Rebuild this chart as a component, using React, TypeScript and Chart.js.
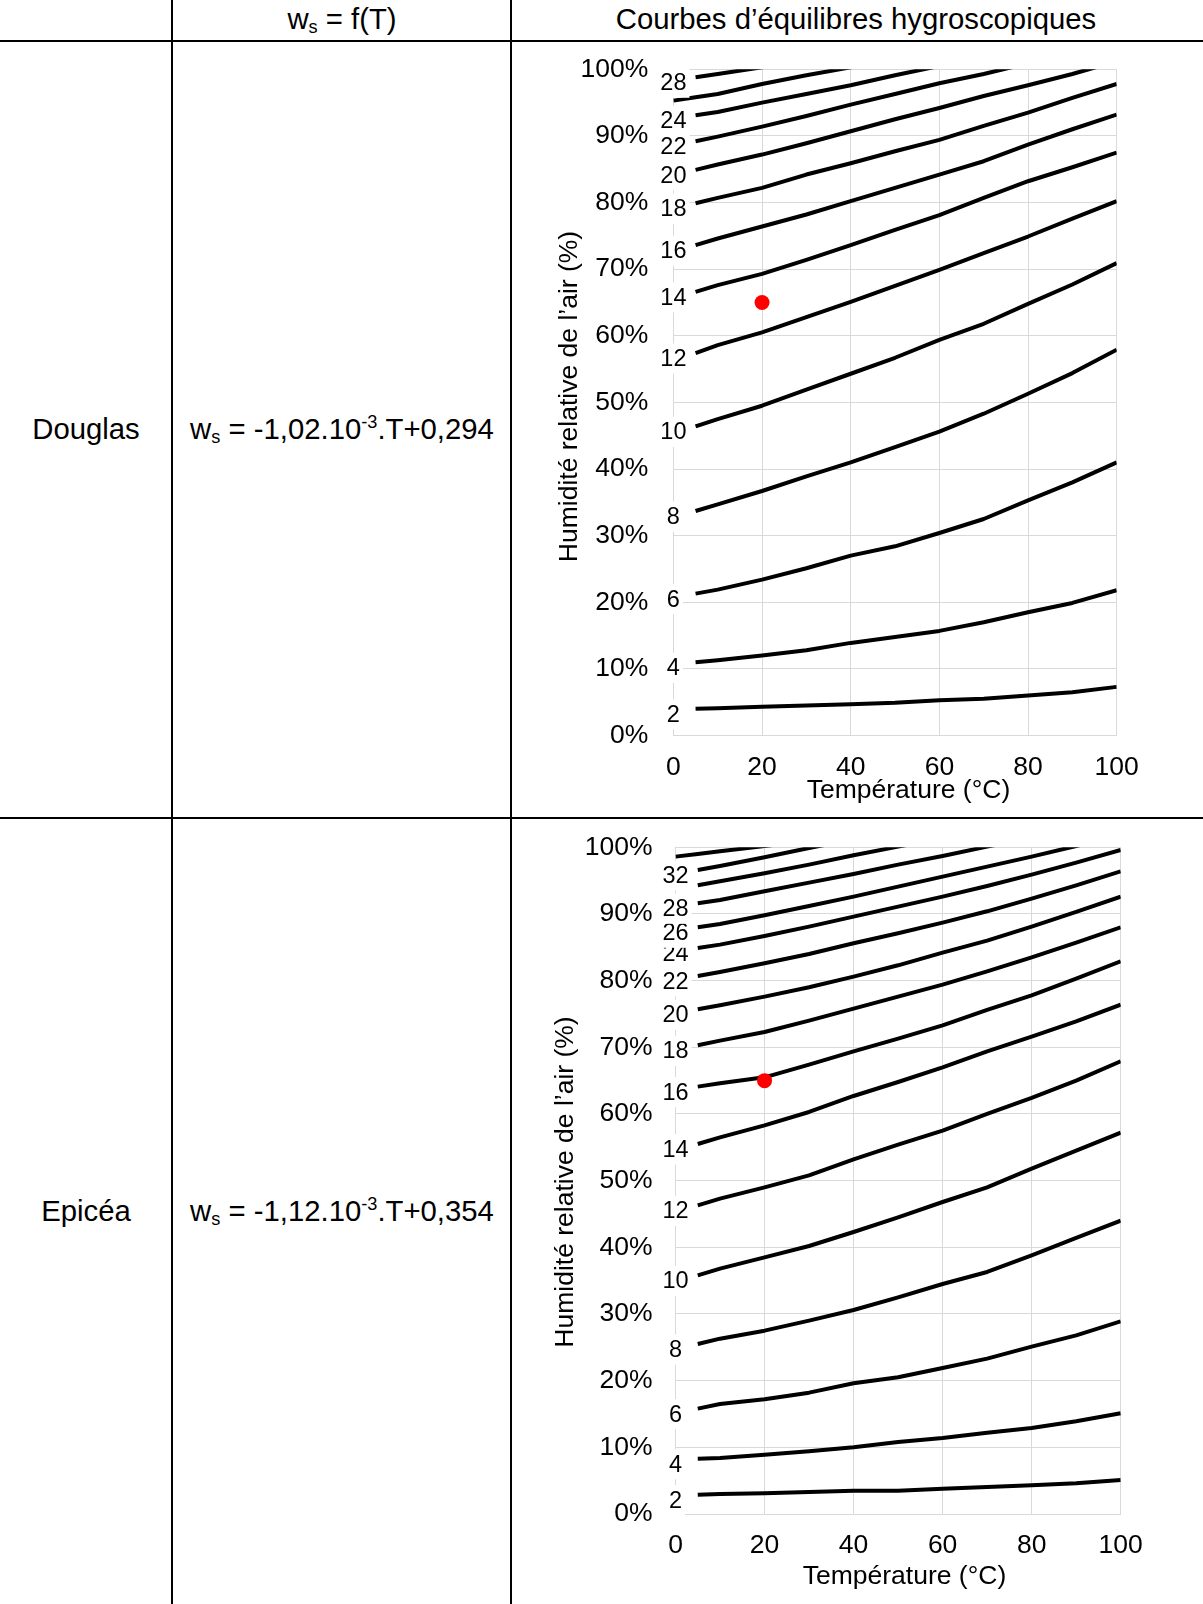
import React, { useEffect, useRef } from "react";
import { Chart, registerables } from "chart.js";

Chart.register(...registerables);

const FONT = '"Liberation Sans", Arial, Helvetica, sans-serif';

// Temperatures (°C) shared by all curves
const TEMPERATURES = [0, 5, 10, 20, 30, 40, 50, 60, 70, 80, 90, 100];
const X_TICK_STEP = 20;
const Y_TICK_STEP = 10;
const X_TITLE = "Température (°C)";
const Y_TITLE = "Humidité relative de l’air (%)";

// Douglas – relative humidity (%) at equilibrium for each wood moisture content (%)
const DOUGLAS_2 = [null, 4.0, 4.1, 4.3, 4.5, 4.7, 4.9, 5.3, 5.5, 6.0, 6.5, 7.3];
const DOUGLAS_4 = [null, 11.0, 11.3, 12.0, 12.8, 13.9, 14.8, 15.7, 17.0, 18.5, 19.9, 21.8];
const DOUGLAS_6 = [null, 21.3, 21.9, 23.4, 25.1, 27.0, 28.4, 30.4, 32.5, 35.3, 38.0, 41.0];
const DOUGLAS_8 = [null, 33.7, 34.7, 36.7, 38.9, 41.0, 43.3, 45.6, 48.3, 51.3, 54.4, 57.9];
const DOUGLAS_10 = [null, 46.4, 47.5, 49.5, 51.9, 54.3, 56.7, 59.4, 61.8, 64.8, 67.7, 70.9];
const DOUGLAS_12 = [null, 57.4, 58.6, 60.5, 62.8, 65.1, 67.5, 69.9, 72.4, 74.9, 77.6, 80.2];
const DOUGLAS_14 = [null, 66.6, 67.6, 69.3, 71.4, 73.6, 75.9, 78.1, 80.7, 83.2, 85.3, 87.5];
const DOUGLAS_16 = [null, 73.6, 74.6, 76.4, 78.2, 80.2, 82.2, 84.2, 86.2, 88.7, 91.0, 93.2];
const DOUGLAS_18 = [null, 79.9, 80.7, 82.2, 84.2, 85.9, 87.7, 89.4, 91.5, 93.5, 95.7, 97.8];
const DOUGLAS_20 = [null, 84.9, 85.7, 87.2, 88.9, 90.7, 92.5, 94.2, 96.0, 97.6, 99.3, 101.2];
const DOUGLAS_22 = [null, 89.2, 89.9, 91.4, 93.0, 94.7, 96.3, 97.9, 99.3, 100.9, 102.5, 104.1];
const DOUGLAS_24 = [null, 93.1, 93.6, 95.0, 96.3, 97.6, 99.1, 100.5, 101.9, 103.3, 104.7, 106.1];
const DOUGLAS_26 = [95.3, 95.8, 96.3, 97.8, 99.1, 100.3, 101.6, 102.9, 104.2, 105.5, 106.8, 108.1];
const DOUGLAS_28 = [null, 98.8, 99.3, 100.3, 101.3, 102.3, 103.3, 104.3, 105.3, 106.3, 107.3, 108.3];
const DOUGLAS_POINT = [20, 65];

// Epicéa – relative humidity (%) at equilibrium for each wood moisture content (%)
const EPICEA_2 = [null, 2.9, 3.0, 3.1, 3.3, 3.5, 3.5, 3.8, 4.05, 4.3, 4.6, 5.1];
const EPICEA_4 = [null, 8.3, 8.4, 8.9, 9.4, 10.0, 10.8, 11.4, 12.2, 12.9, 13.9, 15.1];
const EPICEA_6 = [null, 15.8, 16.5, 17.2, 18.2, 19.6, 20.5, 21.9, 23.3, 25.1, 26.8, 28.9];
const EPICEA_8 = [null, 25.5, 26.3, 27.5, 29.0, 30.6, 32.5, 34.5, 36.3, 38.8, 41.4, 44.0];
const EPICEA_10 = [null, 35.8, 36.8, 38.5, 40.2, 42.3, 44.5, 46.8, 49.0, 51.8, 54.5, 57.2];
const EPICEA_12 = [null, 46.3, 47.3, 49.0, 50.8, 53.2, 55.4, 57.5, 60.0, 62.4, 65.0, 67.9];
const EPICEA_14 = [null, 55.5, 56.5, 58.3, 60.3, 62.7, 64.8, 67.0, 69.4, 71.6, 73.9, 76.4];
const EPICEA_16 = [null, 64.1, 64.6, 65.5, 67.4, 69.4, 71.3, 73.3, 75.6, 77.8, 80.3, 82.9];
const EPICEA_18 = [null, 70.3, 71.0, 72.3, 74.0, 75.8, 77.6, 79.4, 81.4, 83.5, 85.7, 88.0];
const EPICEA_20 = [null, 75.7, 76.3, 77.6, 79.0, 80.6, 82.3, 84.2, 86.0, 88.1, 90.3, 92.6];
const EPICEA_22 = [null, 80.7, 81.3, 82.6, 84.0, 85.6, 87.1, 88.7, 90.4, 92.3, 94.3, 96.4];
const EPICEA_24 = [null, 84.9, 85.4, 86.7, 88.1, 89.6, 91.1, 92.6, 94.2, 95.9, 97.7, 99.6];
const EPICEA_26 = [null, 88.0, 88.5, 89.8, 91.2, 92.6, 94.1, 95.6, 97.1, 98.6, 100.2, 101.8];
const EPICEA_28 = [null, 91.6, 92.1, 93.4, 94.7, 96.0, 97.4, 98.7, 100.1, 101.5, 102.9, 104.3];
const EPICEA_30 = [null, 94.3, 94.9, 96.1, 97.4, 98.8, 100.1, 101.4, 102.7, 104.0, 105.3, 106.6];
const EPICEA_32 = [null, 96.6, 97.2, 98.5, 99.9, 101.2, 102.5, 103.8, 105.1, 106.4, 107.7, 109.0];
const EPICEA_34 = [98.6, 99.0, 99.4, 100.2, 101.0, 101.8, 102.6, 103.4, 104.2, 105.0, 105.8, 106.6];
const EPICEA_POINT = [20, 65];

type Curve = { w: number; values: (number | null)[]; showLabel: boolean };

const DOUGLAS_CURVES: Curve[] = [
  { w: 2, values: DOUGLAS_2, showLabel: true },
  { w: 4, values: DOUGLAS_4, showLabel: true },
  { w: 6, values: DOUGLAS_6, showLabel: true },
  { w: 8, values: DOUGLAS_8, showLabel: true },
  { w: 10, values: DOUGLAS_10, showLabel: true },
  { w: 12, values: DOUGLAS_12, showLabel: true },
  { w: 14, values: DOUGLAS_14, showLabel: true },
  { w: 16, values: DOUGLAS_16, showLabel: true },
  { w: 18, values: DOUGLAS_18, showLabel: true },
  { w: 20, values: DOUGLAS_20, showLabel: true },
  { w: 22, values: DOUGLAS_22, showLabel: true },
  { w: 24, values: DOUGLAS_24, showLabel: true },
  { w: 26, values: DOUGLAS_26, showLabel: false },
  { w: 28, values: DOUGLAS_28, showLabel: true },
];

const EPICEA_CURVES: Curve[] = [
  { w: 2, values: EPICEA_2, showLabel: true },
  { w: 4, values: EPICEA_4, showLabel: true },
  { w: 6, values: EPICEA_6, showLabel: true },
  { w: 8, values: EPICEA_8, showLabel: true },
  { w: 10, values: EPICEA_10, showLabel: true },
  { w: 12, values: EPICEA_12, showLabel: true },
  { w: 14, values: EPICEA_14, showLabel: true },
  { w: 16, values: EPICEA_16, showLabel: true },
  { w: 18, values: EPICEA_18, showLabel: true },
  { w: 20, values: EPICEA_20, showLabel: true },
  { w: 22, values: EPICEA_22, showLabel: true },
  { w: 24, values: EPICEA_24, showLabel: true },
  { w: 26, values: EPICEA_26, showLabel: true },
  { w: 28, values: EPICEA_28, showLabel: true },
  { w: 30, values: EPICEA_30, showLabel: false },
  { w: 32, values: EPICEA_32, showLabel: true },
  { w: 34, values: EPICEA_34, showLabel: false },
];

type Geo = {
  left: number;
  top: number;
  width: number;
  height: number;
  yAxisWidth: number;
  padRight: number;
  padTop: number;
  xAxisHeight: number;
  yTickPad: number;
  xTitleX: number;
  xTitleY: number;
  yTitleX: number;
  yTitleY: number;
};

const GEO_DOUGLAS: Geo = {
  left: 512, top: 42, width: 691, height: 775,
  yAxisWidth: 161.4, padRight: 86.3, padTop: 27.3, xAxisHeight: 81.5,
  yTickPad: 25, xTitleX: 396.5, xTitleY: 749, yTitleX: 58, yTitleY: 354.5,
};

const GEO_EPICEA: Geo = {
  left: 512, top: 819, width: 691, height: 785,
  yAxisWidth: 163.5, padRight: 82.3, padTop: 28.3, xAxisHeight: 90,
  yTickPad: 23, xTitleX: 392.5, xTitleY: 757.5, yTitleX: 54, yTitleY: 363,
};

function EquilibriumChart({ curves, point, geo }: { curves: Curve[]; point: number[]; geo: Geo }) {
  const ref = useRef<HTMLCanvasElement>(null);

  useEffect(() => {
    const canvas = ref.current;
    if (!canvas) return;

    const overlay = {
      id: "overlay",
      afterDatasetsDraw(chart: any) {
        const { ctx, scales } = chart;
        const xs = scales.x;
        const ys = scales.y;
        ctx.save();
        ctx.font = `23.5px ${FONT}`;
        ctx.textAlign = "center";
        ctx.textBaseline = "middle";
        const px = xs.getPixelForValue(0);
        curves.forEach((c) => {
          if (!c.showLabel) return;
          const first = c.values.find((v) => v !== null) as number;
          const py = ys.getPixelForValue(first) + 5.5;
          const text = String(c.w);
          const tw = ctx.measureText(text).width;
          ctx.fillStyle = "#ffffff";
          ctx.fillRect(px - tw / 2 - 3, py - 15, tw + 6, 30);
          ctx.fillStyle = "#000000";
          ctx.fillText(text, px, py + 1);
        });
        ctx.font = `26.5px ${FONT}`;
        ctx.fillStyle = "#000000";
        ctx.fillText(X_TITLE, geo.xTitleX, geo.xTitleY);
        ctx.translate(geo.yTitleX, geo.yTitleY);
        ctx.rotate(-Math.PI / 2);
        ctx.fillText(Y_TITLE, 0, 0);
        ctx.restore();
      },
    };

    const datasets: any[] = [
      {
        type: "scatter",
        data: [{ x: point[0], y: point[1] }],
        pointRadius: 7.5,
        pointBackgroundColor: "#ff0000",
        pointBorderColor: "#ff0000",
        pointBorderWidth: 0,
        showLine: false,
        order: -1,
        clip: false,
      },
      ...curves.map((c) => ({
        type: "line",
        label: String(c.w),
        data: TEMPERATURES.map((t, i) => ({ x: t, y: c.values[i] })).filter((p) => p.y !== null),
        borderColor: "#000000",
        borderWidth: 4,
        borderJoinStyle: "round",
        pointRadius: 0,
        tension: 0,
        fill: false,
        clip: 0,
        order: 1,
      })),
    ];

    const tickFont = { family: FONT, size: 26.5 };

    const chart = new Chart(canvas, {
      type: "line",
      data: { datasets },
      options: {
        animation: false,
        responsive: false,
        devicePixelRatio: 1,
        layout: { padding: { left: 0, top: geo.padTop, right: geo.padRight, bottom: 0 } },
        plugins: {
          legend: { display: false },
          tooltip: { enabled: false },
          title: { display: false },
        },
        scales: {
          x: {
            type: "linear",
            min: 0,
            max: 100,
            ticks: { stepSize: X_TICK_STEP, padding: 16, font: tickFont, color: "#000000", maxRotation: 0, autoSkip: false },
            grid: { color: "#d9d9d9", lineWidth: 1, drawTicks: false },
            border: { color: "#d9d9d9", width: 1 },
            afterFit: (s: any) => {
              s.height = geo.xAxisHeight;
            },
          },
          y: {
            type: "linear",
            min: 0,
            max: 100,
            ticks: {
              stepSize: Y_TICK_STEP,
              padding: 0,
              font: tickFont,
              color: "#000000",
              autoSkip: false,
              callback: (v: any) => `${v}%`,
            },
            grid: {
              color: "#d9d9d9",
              lineWidth: 1,
              drawTicks: true,
              tickLength: geo.yTickPad,
              tickColor: "rgba(0,0,0,0)",
            },
            border: { color: "#d9d9d9", width: 1 },
            afterFit: (s: any) => {
              s.width = geo.yAxisWidth;
            },
          },
        },
      } as any,
      plugins: [overlay],
    });

    return () => chart.destroy();
  }, [curves, point, geo]);

  return (
    <canvas
      ref={ref}
      width={geo.width}
      height={geo.height}
      style={{ position: "absolute", left: geo.left, top: geo.top, width: geo.width, height: geo.height, display: "block" }}
    />
  );
}

const cellText: React.CSSProperties = {
  position: "absolute",
  transform: "translate(-50%, -50%)",
  whiteSpace: "nowrap",
  fontFamily: FONT,
  fontSize: 29.3,
  color: "#000",
  lineHeight: "34px",
};

const subStyle: React.CSSProperties = { fontSize: "0.62em", verticalAlign: "-0.2em", lineHeight: 0 };
const supStyle: React.CSSProperties = { fontSize: "0.62em", verticalAlign: "0.6em", lineHeight: 0 };

function Formula({ a, b }: { a: string; b: string }) {
  return (
    <>
      w<span style={subStyle}>s</span> = {a}.10<span style={supStyle}>-3</span>.T+{b}
    </>
  );
}

export default function App() {
  return (
    <div style={{ position: "relative", width: 1203, height: 1604, background: "#fff", overflow: "hidden" }}>
      <style>{"html,body{margin:0;padding:0;background:#fff;}"}</style>
      {/* table rules */}
      <div style={{ position: "absolute", left: 171, top: 0, width: 2, height: 1604, background: "#000" }} />
      <div style={{ position: "absolute", left: 510, top: 0, width: 2, height: 1604, background: "#000" }} />
      <div style={{ position: "absolute", left: 0, top: 40, width: 1203, height: 2, background: "#000" }} />
      <div style={{ position: "absolute", left: 0, top: 817, width: 1203, height: 2, background: "#000" }} />

      {/* header */}
      <div style={{ ...cellText, left: 342, top: 19 }}>
        w<span style={subStyle}>s</span> = f(T)
      </div>
      <div style={{ ...cellText, left: 856, top: 19 }}>Courbes d’équilibres hygroscopiques</div>

      {/* Douglas row */}
      <div style={{ ...cellText, left: 86, top: 429 }}>Douglas</div>
      <div style={{ ...cellText, left: 342, top: 429 }}>
        <Formula a="-1,02" b="0,294" />
      </div>
      <EquilibriumChart curves={DOUGLAS_CURVES} point={DOUGLAS_POINT} geo={GEO_DOUGLAS} />

      {/* Epicéa row */}
      <div style={{ ...cellText, left: 86, top: 1211 }}>Epicéa</div>
      <div style={{ ...cellText, left: 342, top: 1211 }}>
        <Formula a="-1,12" b="0,354" />
      </div>
      <EquilibriumChart curves={EPICEA_CURVES} point={EPICEA_POINT} geo={GEO_EPICEA} />
    </div>
  );
}
